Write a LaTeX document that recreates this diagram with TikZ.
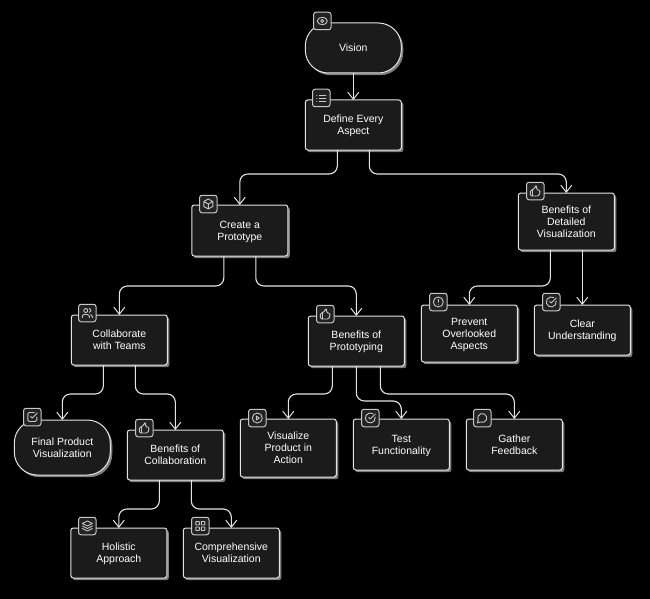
\documentclass[tikz,border=0pt]{standalone}
\usepackage{fontspec}
\setmainfont{Liberation Sans}
\usetikzlibrary{arrows.meta,shadows}
\definecolor{boxfill}{HTML}{1B1B1B}
\definecolor{boxline}{HTML}{E4E4E4}
\definecolor{shadowc}{HTML}{7E7E7E}
\definecolor{iconline}{HTML}{C8C8C8}
\definecolor{iconfill}{HTML}{222222}
\tikzset{
  basebox/.style={draw=boxline,fill=boxfill,line width=1pt,text=white,align=center,inner sep=0pt,outer sep=0pt,
    minimum width=96pt,text depth=-1.4pt,font=\fontsize{10.5}{12}\selectfont,
    general shadow={shadow xshift=2pt,shadow yshift=-2.2pt,fill=shadowc,draw=none}},
  card/.style={basebox,rounded corners=2.5pt},
  pill/.style={basebox,rounded corners=23pt},
  edge/.style={draw=boxline,line width=1.1pt,rounded corners=8pt,-{Straight Barb[length=7pt,width=11pt,line width=1pt]}},
  badge/.style={draw=iconline,fill=iconfill,line width=1pt,rounded corners=2.5pt,minimum size=17.5pt,inner sep=0pt,outer sep=0pt},
  glyph/.style={draw=iconline,line width=0.9pt,line cap=round,line join=round,scale=0.5,shift={(-12,-12)}},
  icoeye/.pic={\begin{scope}[glyph]
    \draw (2,12) .. controls (5,5) and (8,5) .. (12,5) .. controls (16,5) and (19,5) .. (22,12) .. controls (19,19) and (16,19) .. (12,19) .. controls (8,19) and (5,19) .. (2,12) -- cycle;
    \draw (12,12) circle (3);\end{scope}},
  icolist/.pic={\begin{scope}[glyph]
    \draw (8,6)--(21,6) (8,12)--(21,12) (8,18)--(21,18) (3,6)--(3.1,6) (3,12)--(3.1,12) (3,18)--(3.1,18);\end{scope}},
  icocube/.pic={\begin{scope}[glyph]
    \draw (12,2)--(21,7)--(21,17)--(12,22)--(3,17)--(3,7)--cycle (3,7)--(12,12)--(21,7) (12,12)--(12,22);\end{scope}},
  icothumb/.pic={\begin{scope}[glyph]
    \draw (7,10)--(7,22);
    \draw[rounded corners=1.5pt] (2,10)--(8,10)--(12,2)--(15.5,3)--(14,10)--(22,10)--(19.5,22)--(2,22)--cycle;\end{scope}},
  icoalert/.pic={\begin{scope}[glyph]
    \draw (12,12) circle (10) (12,7)--(12,12.5) (12,16.5)--(12.1,16.5);\end{scope}},
  icocheck/.pic={\begin{scope}[glyph]
    \draw (21.8,10) arc (-11:300:10) (9,11)--(12,14)--(22,4);\end{scope}},
  icousers/.pic={\begin{scope}[glyph]
    \draw (9,7) circle (4);
    \draw (16,21)--(16,19) arc (0:-90:4) -- (6,15) arc (-90:-180:4) -- (2,21);
    \draw (22,21)--(22,19) arc (0:-75:4);
    \draw (16,3.1) arc (-75:75:4);\end{scope}},
  icoplay/.pic={\begin{scope}[glyph]
    \draw (12,12) circle (10) (10,8)--(16,12)--(10,16)--cycle;\end{scope}},
  icomsg/.pic={\begin{scope}[glyph]
    \draw (7.9,20) arc (117:-207:9) -- (2,22) -- cycle;\end{scope}},
  icotick/.pic={\begin{scope}[glyph]
    \draw[rounded corners=1.5pt] (21,12)--(21,21)--(3,21)--(3,3)--(16,3);
    \draw (9,11)--(12,14)--(22,4);\end{scope}},
  icolayers/.pic={\begin{scope}[glyph]
    \draw (12,2)--(22,7)--(12,12)--(2,7)--cycle (2,12)--(12,17)--(22,12) (2,17)--(12,22)--(22,17);\end{scope}},
  icogrid/.pic={\begin{scope}[glyph]
    \draw[rounded corners=0.5pt] (3,3) rectangle (10,10) (14,3) rectangle (21,10) (3,14) rectangle (10,21) (14,14) rectangle (21,21);\end{scope}},
}
\newcommand{\putbadge}[4]{\node[badge] (#1) at (#2,#3) {}; \pic at (#1) {#4};}
\begin{document}
\begin{tikzpicture}[x=1pt,y=-1pt]
\useasboundingbox[fill=black] (0,0) rectangle (650,599);
\begin{scope}[xshift=-0.7pt]
% boxes
\node[pill,minimum height=50pt] (vision) at (354,48) {Vision};
\node[card,minimum height=50pt] (define) at (354,125) {Define Every\\Aspect};
\node[card,minimum height=51pt] (create) at (240.5,230.5) {Create a\\Prototype};
\node[card,minimum height=57pt] (detailed) at (567,221.5) {Benefits of\\Detailed\\Visualization};
\node[card,minimum height=57pt] (prevent) at (470,333.5) {Prevent\\Overlooked\\Aspects};
\node[card,minimum height=50pt] (clear) at (583,330) {Clear\\Understanding};
\node[card,minimum height=50pt] (collab) at (120,340) {Collaborate\\with Teams};
\node[card,minimum height=50pt] (proto) at (357,341) {Benefits of\\Prototyping};
\node[pill,minimum height=55pt] (final) at (63,447.5) {Final Product\\Visualization};
\node[card,minimum height=50pt] (bcollab) at (176,455) {Benefits of\\Collaboration};
\node[card,minimum height=58pt] (visualize) at (289,448) {Visualize\\Product in\\Action};
\node[card,minimum height=51pt] (test) at (402,444.5) {Test\\Functionality};
\node[card,minimum height=51pt] (gather) at (515,444.5) {Gather\\Feedback};
\node[card,minimum height=50pt] (holistic) at (119.5,553) {Holistic\\Approach};
\node[card,minimum height=50pt] (compre) at (232,553) {Comprehensive\\Visualization};
% connectors
\draw[edge] (vision.south) -- (define.north);
\draw[edge] ([xshift=-16pt]define.south) -- ++(0,24) -| (create.north);
\draw[edge] ([xshift=16pt]define.south) -- ++(0,24) -| (detailed.north);
\draw[edge] ([xshift=-16pt]create.south) -- ++(0,30) -| (collab.north);
\draw[edge] ([xshift=16pt]create.south) -- ++(0,30) -| (proto.north);
\draw[edge] ([xshift=-16pt]detailed.south) -- ++(0,36) -| (prevent.north);
\draw[edge] ([xshift=16pt]detailed.south) -- (clear.north);
\draw[edge] ([xshift=-16pt]collab.south) -- ++(0,29) -| (final.north);
\draw[edge] ([xshift=16pt]collab.south) -- ++(0,29) -| (bcollab.north);
\draw[edge] ([xshift=-24pt]proto.south) -- ++(0,28) -| (visualize.north);
\draw[edge] (proto.south) -- ++(0,35) -| (test.north);
\draw[edge] ([xshift=24pt]proto.south) -- ++(0,28) -| (gather.north);
\draw[edge] ([xshift=-16pt]bcollab.south) -- ++(0,29) -| (holistic.north);
\draw[edge] ([xshift=16pt]bcollab.south) -- ++(0,29) -| (compre.north);
% badges
\putbadge{ivision}{323}{21}{icoeye}
\putbadge{idefine}{322}{98}{icolist}
\putbadge{icreate}{209}{204}{icocube}
\putbadge{idetailed}{536}{191}{icothumb}
\putbadge{iprevent}{439}{302}{icoalert}
\putbadge{iclear}{552}{302}{icocheck}
\putbadge{icollab}{88}{313}{icousers}
\putbadge{iproto}{326}{314}{icothumb}
\putbadge{ifinal}{33}{417}{icotick}
\putbadge{ibcollab}{145}{428}{icothumb}
\putbadge{ivisualize}{258}{418}{icoplay}
\putbadge{itest}{371}{418}{icocheck}
\putbadge{igather}{483}{418}{icomsg}
\putbadge{iholistic}{88}{526}{icolayers}
\putbadge{icompre}{201}{526}{icogrid}
\end{scope}
\end{tikzpicture}
\end{document}
